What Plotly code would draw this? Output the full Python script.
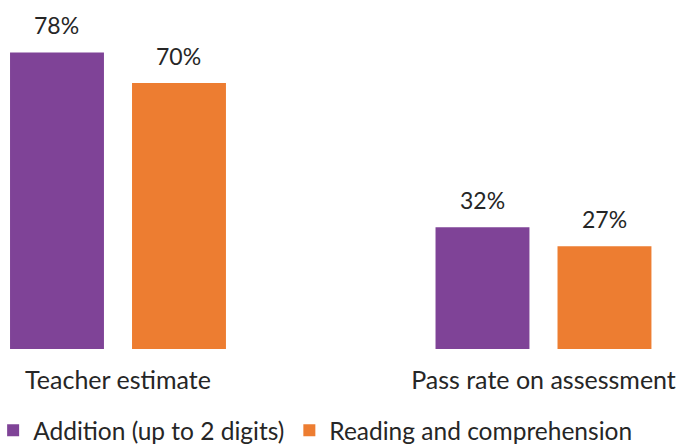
import plotly.graph_objects as go

categories = ["Teacher estimate", "Pass rate on assessment"]
addition = [78, 32]
reading = [70, 27]
series_names = ["Addition (up to 2 digits)", "Reading and comprehension"]
colors = ["#7F4397", "#ED7D31"]

FONT = "Lato"
TXT = "#262626"

fig = go.Figure()
for name, vals, col in zip(series_names, [addition, reading], colors):
    fig.add_trace(go.Bar(
        x=categories, y=vals, name=name,
        marker=dict(color=col, line=dict(width=0)),
    ))

# value labels above bars
for i, (vals, shift) in enumerate(zip([addition, reading], [-61, 61])):
    for c, v in zip(categories, vals):
        fig.add_annotation(x=c, y=v, text=f"{v}%", showarrow=False,
                           xref="x", yref="y", yanchor="bottom",
                           xshift=shift, yshift=11,
                           font=dict(family=FONT, size=23, color=TXT))

fig.update_layout(
    width=687, height=444,
    margin=dict(l=0, r=0, t=0, b=95, autoexpand=False),
    paper_bgcolor="white", plot_bgcolor="white",
    barmode="group", bargap=0.4266, bargroupgap=0.23,
    font=dict(family=FONT, color=TXT),
    xaxis=dict(type="category", range=[-0.2773, 1.3373], showline=False,
               showgrid=False, zeroline=False, ticks="", automargin=False,
               tickfont=dict(family=FONT, size=25, color=TXT),
               ticklabelstandoff=14),
    yaxis=dict(range=[0, 91.8], visible=False, automargin=False),
    legend=dict(orientation="h", x=-0.01, xanchor="left", y=-0.233, yanchor="middle",
                font=dict(family=FONT, size=24.5, color=TXT),
                itemsizing="constant", traceorder="normal"),
    showlegend=True,
)

fig.write_html("out.html")
